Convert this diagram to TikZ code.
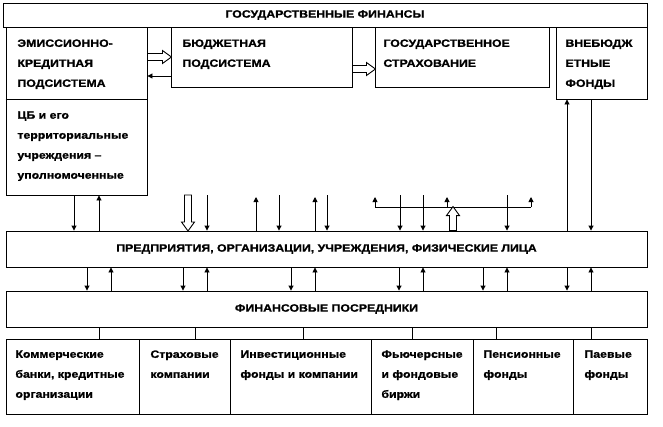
\documentclass[tikz,border=0pt]{standalone}
\usepackage{fontspec}
\setmainfont{Liberation Sans}[FakeStretch=1.16, BoldFeatures={FakeBold=1.2}]
\usetikzlibrary{arrows.meta}
\usetikzlibrary{fit}

\newcommand{\fsz}{\fontsize{10.6}{20}\selectfont\bfseries}

\tikzset{
  box/.style={draw, inner sep=0pt},
  txt/.style={anchor=north west, inner sep=0pt, align=left, font=\fsz},
  ar/.style={-{Triangle[length=5pt,width=5pt]}},
  pics/hollow/.style={code={
    \draw[fill=white] (0,-3.5) -- (#1-9,-3.5) -- (#1-9,-6.5) -- (#1,0)
      -- (#1-9,6.5) -- (#1-9,3.5) -- (0,3.5) -- cycle;}}
}

\begin{document}
\begin{tikzpicture}[x=1pt,y=-1pt,line width=0.9pt]
\useasboundingbox (0,0) rectangle (663,426);

% state finance
\node[box, fit={(3,3) (647,27)}] (gf) {};
\node[box, fit={(6,27) (147,195)}] (eks) {};
\node[box, fit={(171,27) (352,87)}] (bud) {};
\node[box, fit={(375,27) (549,87)}] (strah) {};
\node[box, fit={(556,27) (647,99)}] (vnb) {};
\draw (eks.west |- 0,99) -- (eks.east |- 0,99);

\node[font=\fsz] (gf-t) at (gf.center) {ГОСУДАРСТВЕННЫЕ ФИНАНСЫ};
\node[txt] (eks-t) at (17,39) {ЭМИССИОННО-\\КРЕДИТНАЯ\\ПОДСИСТЕМА};
\node[txt] (cb-t) at (17,111) {ЦБ и его\\территориальные\\учреждения –\\уполномоченные};
\node[txt] (bud-t) at (182,39) {БЮДЖЕТНАЯ\\ПОДСИСТЕМА};
\node[txt] (strah-t) at (383,39) {ГОСУДАРСТВЕННОЕ\\СТРАХОВАНИЕ};
\node[txt] (vnb-t) at (565,39) {ВНЕБЮДЖ\\ЕТНЫЕ\\ФОНДЫ};

% enterprises and intermediaries
\node[box, fit={(6,231) (647,267)}] (pred) {};
\node[box, fit={(6,291) (647,327)}] (fin) {};
\node[font=\fsz] (pred-t) at (pred.center) {ПРЕДПРИЯТИЯ, ОРГАНИЗАЦИИ, УЧРЕЖДЕНИЯ, ФИЗИЧЕСКИЕ ЛИЦА};
\node[font=\fsz] (fin-t) at (fin.center) {ФИНАНСОВЫЕ ПОСРЕДНИКИ};

\node[box, fit={(6,339) (139,414)}] (c1) {};
\node[box, fit={(139,339) (230,414)}] (c2) {};
\node[box, fit={(230,339) (371,414)}] (c3) {};
\node[box, fit={(371,339) (473,414)}] (c4) {};
\node[box, fit={(473,339) (573,414)}] (c5) {};
\node[box, fit={(573,339) (647,414)}] (c6) {};

\node[txt] (c1-t) at (15,350) {Коммерческие\\банки, кредитные\\организации};
\node[txt] (c2-t) at (150,350) {Страховые\\компании};
\node[txt] (c3-t) at (240,350) {Инвестиционные\\фонды и компании};
\node[txt] (c4-t) at (381,350) {Фьючерсные\\и фондовые\\биржи};
\node[txt] (c5-t) at (483,350) {Пенсионные\\фонды};
\node[txt] (c6-t) at (584,350) {Паевые\\фонды};

% flows between subsystems
\pic at (eks.east |- 0,57) {hollow=24};
\draw[ar] (bud.west |- 0,76) -- (eks.east |- 0,76);
\pic at (bud.east |- 0,69) {hollow=23};

\coordinate (hi) at (0,195);
\coordinate (tipy) at (0,197);
\coordinate (brl) at (375,207);
\coordinate (brr) at (531,207);

\draw[ar] (eks.south -| 74,0) -- (pred.north -| 74,0);
\draw[ar] (pred.north -| 99,0) -- (eks.south -| 99,0);
\pic[rotate=-90] at (188,195) {hollow=36};
\foreach \x in {207,279,327,400,423,507}
  \draw[ar] (hi -| \x,0) -- (pred.north -| \x,0);
\foreach \x in {256,315}
  \draw[ar] (pred.north -| \x,0) -- (tipy -| \x,0);
\draw (brl) -- (brr);
\foreach \x in {375,447,531}
  \draw[ar] (brl -| \x,0) -- (tipy -| \x,0);
\pic[rotate=90] at (pred.north -| 453,0) {hollow=24};

\draw[ar] (pred.north -| 567,0) -- (vnb.south -| 567,0);
\draw[ar] (vnb.south -| 591,0) -- (pred.north -| 591,0);

\foreach \x in {87,183,291,399,483,567}
  \draw[ar] (pred.south -| \x,0) -- (fin.north -| \x,0);
\foreach \x in {111,207,315,423,507,591}
  \draw[ar] (fin.north -| \x,0) -- (pred.south -| \x,0);

\foreach \x in {99,195,303,412,496,591}
  \draw (fin.south -| \x,0) -- (c1.north -| \x,0);
\end{tikzpicture}
\end{document}
